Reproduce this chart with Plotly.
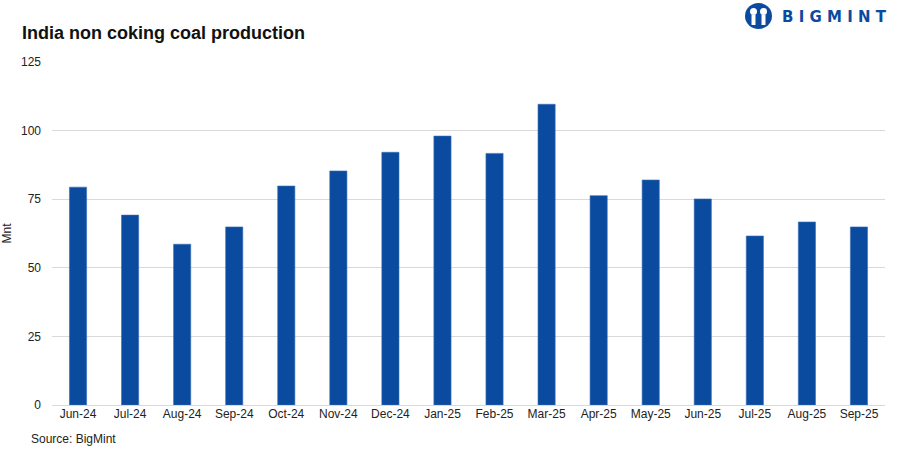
import plotly.graph_objects as go

months = ["Jun-24", "Jul-24", "Aug-24", "Sep-24", "Oct-24", "Nov-24", "Dec-24", "Jan-25",
          "Feb-25", "Mar-25", "Apr-25", "May-25", "Jun-25", "Jul-25", "Aug-25", "Sep-25"]
production = [79.4, 69.2, 58.6, 64.9, 79.8, 85.3, 92.1, 98.0,
              91.7, 109.6, 76.3, 82.0, 75.1, 61.6, 66.7, 64.9]
y_ticks = [0, 25, 50, 75, 100, 125]

BLUE = "#0a4b9f"
FONT = "Liberation Sans, Arial, sans-serif"

L, R, T, B = 52, 14, 62, 48
PW, PH = 899 - L - R, 453 - T - B


def px(x):
    return (x - L) / PW


def py(y):
    return (453 - B - y) / PH


fig = go.Figure()
fig.add_trace(go.Bar(
    x=months, y=production,
    marker=dict(color=BLUE, line=dict(color="#3d6fb5", width=0.6)),
    hoverinfo="x+y",
))

fig.update_layout(
    width=899, height=453,
    paper_bgcolor="white", plot_bgcolor="white",
    margin=dict(l=L, r=R, t=T, b=B, autoexpand=False),
    bargap=0.67,
    showlegend=False,
    font=dict(family=FONT, size=12, color="#222222"),
    title=dict(text="<b>India non coking coal production</b>", x=22 / 899, xanchor="left",
               y=1 - 33 / 453, yanchor="middle",
               font=dict(family=FONT, size=18, color="#111111")),
    xaxis=dict(showgrid=False, showline=False, ticks="", tickfont=dict(size=12, color="#222222"),
               automargin=False),
    yaxis=dict(range=[0, 125], tickvals=y_ticks, showgrid=True, gridcolor="#d9d9d9", gridwidth=1,
               zeroline=True, zerolinecolor="#d9d9d9", zerolinewidth=1, automargin=False,
               tickfont=dict(size=12, color="#222222"), ticklabelstandoff=10,
               title=dict(text="Mnt", font=dict(size=12, color="#222222"), standoff=7)),
    annotations=[
        dict(text="Source: BigMint", xref="paper", yref="paper", x=px(29), y=py(439),
             xanchor="left", yanchor="middle", showarrow=False,
             font=dict(family=FONT, size=12, color="#222222")),
        dict(text="<b>B I G M I N T</b>", xref="paper", yref="paper", x=px(780), y=py(17),
             xanchor="left", yanchor="middle", showarrow=False,
             font=dict(family="DejaVu Sans, sans-serif", size=15, color=BLUE)),
    ],
    shapes=[
        dict(type="circle", xref="paper", yref="paper",
             x0=px(745), x1=px(772), y0=py(29), y1=py(3),
             fillcolor=BLUE, line=dict(width=0)),
        dict(type="circle", xref="paper", yref="paper",
             x0=px(750), x1=px(757), y0=py(15), y1=py(8),
             fillcolor="white", line=dict(width=0)),
        dict(type="circle", xref="paper", yref="paper",
             x0=px(760), x1=px(767), y0=py(15), y1=py(8),
             fillcolor="white", line=dict(width=0)),
        dict(type="rect", xref="paper", yref="paper",
             x0=px(751.5), x1=px(755.5), y0=py(25), y1=py(15),
             fillcolor="white", line=dict(width=0)),
        dict(type="rect", xref="paper", yref="paper",
             x0=px(761.5), x1=px(765.5), y0=py(25), y1=py(15),
             fillcolor="white", line=dict(width=0)),
    ],
)

fig.write_html("out.html", config={"displayModeBar": False},
               post_script="document.body.style.margin='0';")
